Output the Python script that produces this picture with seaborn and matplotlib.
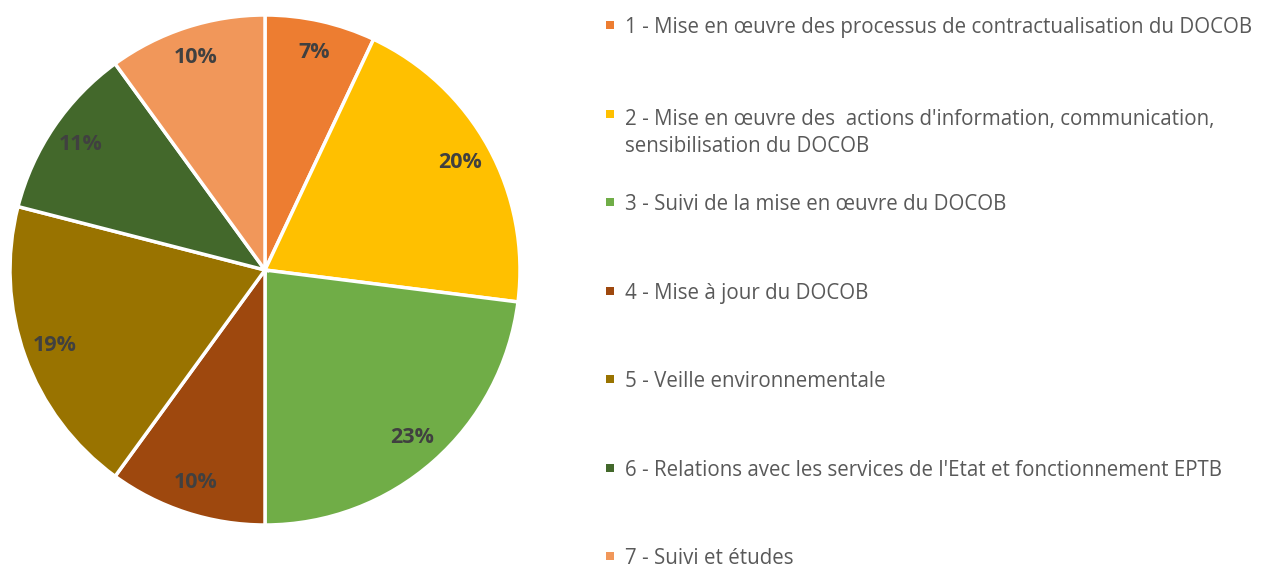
import matplotlib
matplotlib.use('Agg')
import matplotlib.pyplot as plt
from matplotlib.patches import Rectangle
import seaborn as sns

# data
labels = [
    "1 - Mise en œuvre des processus de contractualisation du DOCOB",
    "2 - Mise en œuvre des  actions d'information, communication,\nsensibilisation du DOCOB",
    "3 - Suivi de la mise en œuvre du DOCOB",
    "4 - Mise à jour du DOCOB",
    "5 - Veille environnementale",
    "6 - Relations avec les services de l'Etat et fonctionnement EPTB",
    "7 - Suivi et études",
]
values = [7, 20, 23, 10, 19, 11, 10]
colors = ["#ED7D31", "#FFC000", "#70AD47", "#9E480E", "#997300", "#43682B", "#F1975A"]

sns.set_theme(style="white")
plt.rcParams['font.family'] = ['Open Sans', 'DejaVu Sans']

W, H = 1265, 568
fig = plt.figure(figsize=(W / 100, H / 100), dpi=100)

# pie axes: center (265, 270) px, radius 255 px
cx, cy, r = 265, 270, 255
ax = fig.add_axes([(cx - r) / W, (H - cy - r) / H, 2 * r / W, 2 * r / H])
palette = sns.color_palette(colors)
wedges, texts = ax.pie(
    values, colors=palette, startangle=90, counterclock=False,
    labels=[f"{v}%" for v in values], labeldistance=0.875,
    wedgeprops=dict(edgecolor='white', linewidth=2.5),
    textprops=dict(color='#404040', fontsize=15.5, fontweight='bold'),
)
for t in texts:
    t.set_horizontalalignment('center')
    t.set_verticalalignment('center')
ax.set_xlim(-1.0, 1.0)
ax.set_ylim(-1.0, 1.0)
ax.set_aspect('equal')
ax.axis('off')

# legend drawn by hand so every entry keeps the same slot
y_first, step, line_h = 25, 88.5, 28
for i, (lab, col) in enumerate(zip(labels, palette)):
    yc = y_first + i * step
    fig.patches.append(Rectangle((606 / W, (H - yc - 4) / H), 8 / W, 8 / H,
                                 transform=fig.transFigure, facecolor=col,
                                 edgecolor='none', figure=fig))
    # keep the first line of a wrapped entry on the slot
    shift = (lab.count('\n')) * line_h / 2
    fig.text(625 / W, (H - yc - shift) / H, lab, ha='left', va='center_baseline',
             fontsize=14.8, color='#595959', linespacing=1.4)

plt.savefig('out.png', dpi=100)
